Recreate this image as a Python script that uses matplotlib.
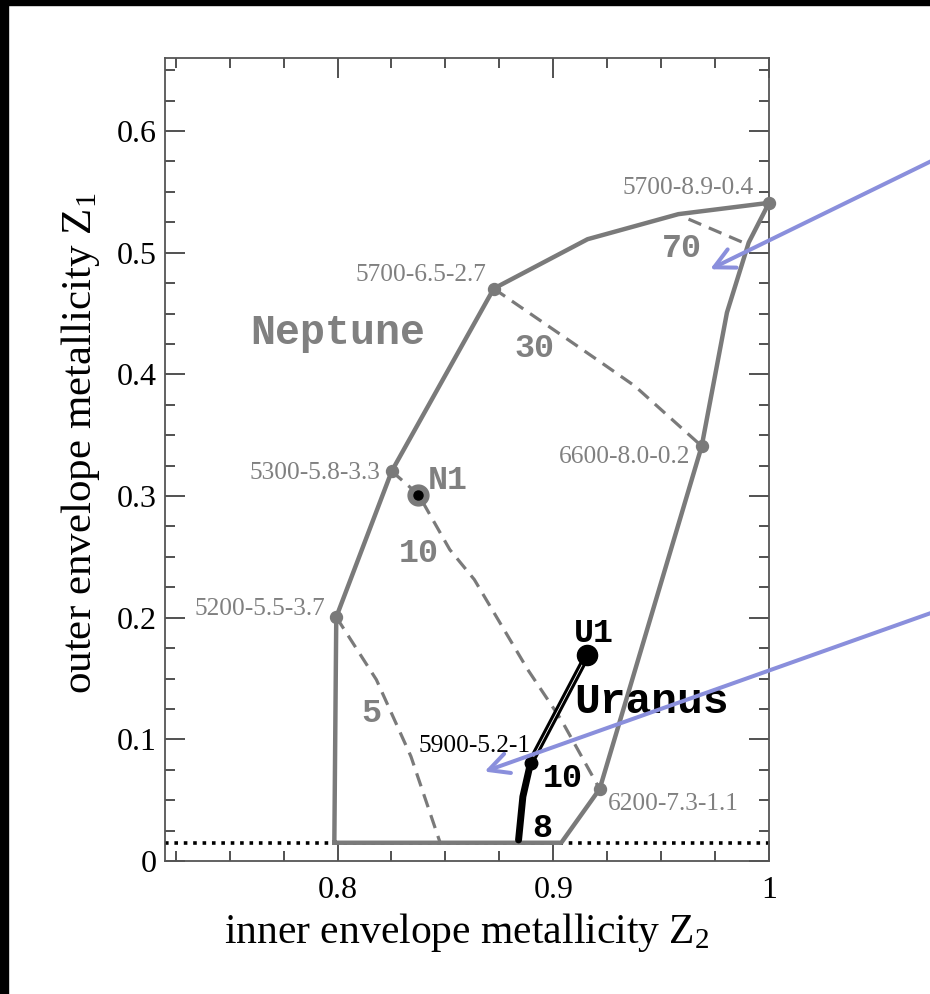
import numpy as np
import matplotlib
matplotlib.use('Agg')
import matplotlib.pyplot as plt
from matplotlib.ticker import MultipleLocator, FixedLocator
from matplotlib.patches import Rectangle

plt.rcParams['font.family'] = 'Liberation Serif'
plt.rcParams['mathtext.fontset'] = 'custom'
plt.rcParams['mathtext.rm'] = 'Liberation Serif'
plt.rcParams['mathtext.it'] = 'Liberation Serif:italic'

# ---- data ----
# outer boundary of the allowed region (Z2, Z1)
edge_z2 = [0.7985, 0.7994, 0.8251, 0.8724, 0.9159, 0.958, 1.0, 0.9906, 0.9805, 0.9688, 0.9215, 0.9037, 0.7985]
edge_z1 = [0.015, 0.2005, 0.3204, 0.4705, 0.5111, 0.5317, 0.541, 0.5084, 0.4508, 0.341, 0.0592, 0.015, 0.015]

# dashed iso-lines
d70_z2 = [0.9627, 0.9898]
d70_z1 = [0.5276, 0.5070]
d30_z2 = [0.8724, 0.904, 0.9223, 0.9378, 0.9533, 0.9688]
d30_z1 = [0.4705, 0.432, 0.4096, 0.3904, 0.3657, 0.341]
d10_z2 = [0.8251, 0.8375, 0.852, 0.8634, 0.8882, 0.9037, 0.9215]
d10_z1 = [0.3204, 0.3012, 0.256, 0.2313, 0.1572, 0.116, 0.0592]
d5_z2 = [0.7994, 0.818, 0.834, 0.8474]
d5_z1 = [0.2005, 0.149, 0.086, 0.0158]

# Uranus solution track
ura_z2 = [0.9158, 0.8895, 0.8859, 0.8839]
ura_z1 = [0.1695, 0.0809, 0.0529, 0.0173]

# labelled vertices
vert_names = ['5700-8.9-0.4', '5700-6.5-2.7', '5300-5.8-3.3', '5200-5.5-3.7', '6600-8.0-0.2', '6200-7.3-1.1']
vert_z2 = [1.0, 0.8724, 0.8251, 0.7994, 0.9688, 0.9215]
vert_z1 = [0.541, 0.4705, 0.3204, 0.2005, 0.341, 0.0592]
vlab_z2 = [0.993, 0.8688, 0.8197, 0.7945, 0.9633, 0.9254]
vlab_z1 = [0.548, 0.4768, 0.3136, 0.2025, 0.3272, 0.042]
vlab_ha = ['right', 'right', 'right', 'right', 'right', 'left']

n1 = (0.8375, 0.3012)
u1 = (0.9158, 0.1695)
p5900 = (0.8895, 0.0809)
z1_min = 0.0148

gray = '#7a7a7a'
tgray = '#808080'
blue = '#8a8fdc'

fig = plt.figure(figsize=(9.3, 9.94), dpi=100)
fig.patches.append(Rectangle((0, 0.995), 1, 0.005, transform=fig.transFigure, color='black', zorder=-1))
fig.patches.append(Rectangle((0, 0), 0.0088, 1, transform=fig.transFigure, color='black', zorder=-1))
ax = fig.add_axes([0.1774, 0.1338, 0.6495, 0.8078])

ax.plot(edge_z2, edge_z1, color=gray, lw=3.2, solid_joinstyle='round', zorder=3)
for xs, ys in [(d70_z2, d70_z1), (d30_z2, d30_z1), (d10_z2, d10_z1), (d5_z2, d5_z1)]:
    ax.plot(xs, ys, color=gray, lw=2.3, linestyle=(0, (4.3, 2.6)), zorder=2)

ax.axhline(z1_min, color='black', lw=2.6, linestyle=(0, (1, 1.6)), zorder=1)

ax.plot(vert_z2, vert_z1, 'o', color=gray, ms=8.6, clip_on=False, zorder=4)
for name, x, y, tx, ty, ha in zip(vert_names, vert_z2, vert_z1, vlab_z2, vlab_z1, vlab_ha):
    ax.text(tx, ty, name, color=tgray, fontsize=18.3, ha=ha, va='baseline')

# Uranus track: double black line then single
ax.plot(ura_z2, ura_z1, color='black', lw=5, solid_capstyle='round', zorder=5)
ax.plot(ura_z2[:2], ura_z1[:2], color='white', lw=0.6, zorder=6)
ax.plot(*u1, 'o', color='black', ms=14.5, zorder=7)
ax.plot(*p5900, 'o', color='black', ms=9, zorder=7)
ax.plot(*n1, 'o', color=gray, ms=15, zorder=7)
ax.plot(*n1, 'o', color='black', ms=6.5, zorder=8)

ax.text(0.8893, 0.0899, '5900-5.2-1', color='black', fontsize=18.3, ha='right', va='baseline')

mono = 'Liberation Mono'
ax.text(0.7595, 0.4247, 'Neptune', family=mono, weight='bold', color=tgray, fontsize=30, va='baseline')
ax.text(0.9095, 0.1218, 'Uranus', family=mono, weight='bold', color='black', fontsize=31, va='baseline')
ax.text(0.8420, 0.306, 'N1', family=mono, weight='bold', color=tgray, fontsize=24, va='baseline')
ax.text(0.9095, 0.180, 'U1', family=mono, weight='bold', color='black', fontsize=24, va='baseline')
ax.text(0.9505, 0.4963, '70', family=mono, weight='bold', color=tgray, fontsize=24, va='baseline')
ax.text(0.8820, 0.414, '30', family=mono, weight='bold', color=tgray, fontsize=24, va='baseline')
ax.text(0.8285, 0.246, '10', family=mono, weight='bold', color=tgray, fontsize=24, va='baseline')
ax.text(0.8112, 0.1144, '5', family=mono, weight='bold', color=tgray, fontsize=24, va='baseline')
ax.text(0.8950, 0.0609, '10', family=mono, weight='bold', color='black', fontsize=24, va='baseline')
ax.text(0.8903, 0.0198, '8', family=mono, weight='bold', color='black', fontsize=24, va='baseline')

# arrows coming in from the right edge
arr = dict(arrowstyle='->,head_length=1.44,head_width=0.73', color=blue, lw=2.9,
           shrinkA=0, shrinkB=0, mutation_scale=10)
ax.annotate('', xy=(0.9727, 0.4864), xycoords='data', xytext=(945, 839.6),
            textcoords='figure pixels', arrowprops=arr, annotation_clip=False, zorder=10)
ax.annotate('', xy=(0.8681, 0.0735), xycoords='data', xytext=(945, 386),
            textcoords='figure pixels', arrowprops=arr, annotation_clip=False, zorder=10)

ax.set_xlim(0.72, 1.0)
ax.set_ylim(0, 0.66)
ax.xaxis.set_major_locator(FixedLocator([0.8, 0.9, 1.0]))
ax.set_xticklabels(['0.8', '0.9', '1'])
ax.yaxis.set_major_locator(FixedLocator([0, 0.1, 0.2, 0.3, 0.4, 0.5, 0.6]))
ax.set_yticklabels(['0', '0.1', '0.2', '0.3', '0.4', '0.5', '0.6'])
ax.xaxis.set_minor_locator(MultipleLocator(0.025))
ax.yaxis.set_minor_locator(MultipleLocator(0.025))
ax.tick_params(which='both', direction='in', top=True, right=True, color='#222222')
ax.tick_params(which='major', length=14.4, width=1.1, labelsize=23)
ax.tick_params(which='minor', length=7.2, width=1.1)
ax.tick_params(axis='x', which='major', pad=11)
ax.tick_params(axis='y', which='major', pad=6)
for s in ax.spines.values():
    s.set_color('#555555')
    s.set_linewidth(1.3)

ax.set_xlabel(r'inner envelope metallicity $\mathrm{Z}_2$', fontsize=30, labelpad=4)
ax.set_ylabel(r'outer envelope metallicity $\mathrm{Z}_1$', fontsize=31)
ax.yaxis.set_label_coords(-0.104, 0.52)

fig.savefig('out.png', dpi=100, facecolor='white')
